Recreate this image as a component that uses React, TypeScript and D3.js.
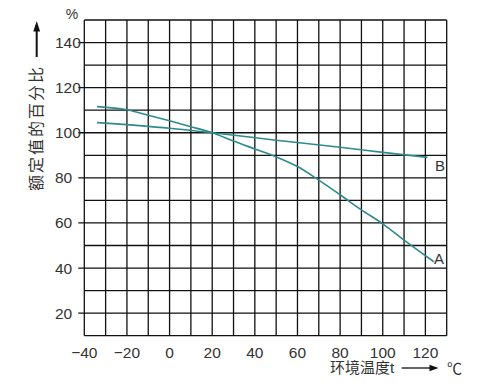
import React from "react";
import * as d3 from "d3";

const xTicks = [-40, -20, 0, 20, 40, 60, 80, 100, 120];
const yTicks = [20, 40, 60, 80, 100, 120, 140];
const xGrid = d3.range(-40, 131, 10);
const yGrid = d3.range(10, 151, 10);

const tempA = [-34, -20, -10, 0, 10, 20, 30, 40, 50, 60, 70, 80, 90, 100, 110, 124];
const valA = [111.6, 110.2, 107.8, 105.3, 102.7, 100, 96.3, 92.8, 89.3, 85, 79, 72.5, 65.8, 59.6, 52.4, 42.8];
const tempB = [-34, 0, 20, 50, 80, 100, 121];
const valB = [104.5, 102, 100, 96.7, 93.6, 91.3, 89.1];

const yTitle = "额定值的百分比";
const xTitle = "环境温度t";
const unitY = "%";
const unitX = "℃";

const FONT = "'Liberation Sans', Arial, 'Noto Sans CJK SC', sans-serif";
const TEXT = "#333";
const LINE = "#2e8b8b";

export default function App() {
  const x = d3.scaleLinear().domain([-40, 130]).range([84.3, 446.7]);
  const y = d3.scaleLinear().domain([10, 150]).range([335.7, 20]);
  const line = d3
    .line<[number, number]>()
    .x((d) => x(d[0]))
    .y((d) => y(d[1]))
    .curve(d3.curveMonotoneX);
  const A = tempA.map((t, i) => [t, valA[i]] as [number, number]);
  const B = tempB.map((t, i) => [t, valB[i]] as [number, number]);
  const fmt = (v: number) => (v < 0 ? "−" + Math.abs(v) : String(v));

  return (
    <svg
      width={482}
      height={386}
      style={{ position: "absolute", left: 0, top: 0, background: "#fff" }}
      fontFamily={FONT}
    >
      <rect width={482} height={386} fill="#fff" />
      {xGrid.map((v) => (
        <line key={"vx" + v} x1={x(v)} x2={x(v)} y1={y(150)} y2={y(10)} stroke="#111" strokeWidth={1.3} />
      ))}
      {yGrid.map((v) => (
        <line
          key={"hy" + v}
          x1={yTicks.includes(v) ? x(-40) - 6 : x(-40)}
          x2={x(130)}
          y1={y(v)}
          y2={y(v)}
          stroke="#111"
          strokeWidth={1.3}
        />
      ))}
      {yTicks.map((v) => (
        <text key={"yl" + v} x={55} y={y(v) + 5.5} fontSize={15.5} fill={TEXT}>
          {v}
        </text>
      ))}
      {xTicks.map((v) => (
        <text key={"xl" + v} x={x(v)} y={357.5} fontSize={15.5} fill={TEXT} textAnchor="middle">
          {fmt(v)}
        </text>
      ))}
      <path d={line(A) || ""} fill="none" stroke={LINE} strokeWidth={1.6} />
      <path d={line(B) || ""} fill="none" stroke={LINE} strokeWidth={1.6} />
      <text x={435} y={171} fontSize={15} fill={TEXT}>B</text>
      <text x={434} y={264} fontSize={15} fill={TEXT}>A</text>
      <text x={72} y={19} fontSize={14} fill={TEXT} textAnchor="middle">{unitY}</text>
      {/* y title with arrow */}
      <text
        transform="translate(42,128) rotate(-90)"
        fontSize={16}
        letterSpacing={2}
        fill={TEXT}
        textAnchor="middle"
      >
        {yTitle}
      </text>
      <line x1={36.7} x2={36.7} y1={57} y2={29} stroke="#111" strokeWidth={2} />
      <path d="M36.7,21 L33.3,31.5 L40.1,31.5 Z" fill="#111" />
      {/* x title with arrow */}
      <text x={330} y={373} fontSize={15} fill={TEXT}>{xTitle}</text>
      <line x1={401.7} x2={431} y1={368} y2={368} stroke="#111" strokeWidth={1.3} />
      <path d="M438.5,368 L429.5,364.8 L429.5,371.2 Z" fill="#111" />
      <text x={447} y={374} fontSize={15} fill={TEXT}>{unitX}</text>
    </svg>
  );
}
